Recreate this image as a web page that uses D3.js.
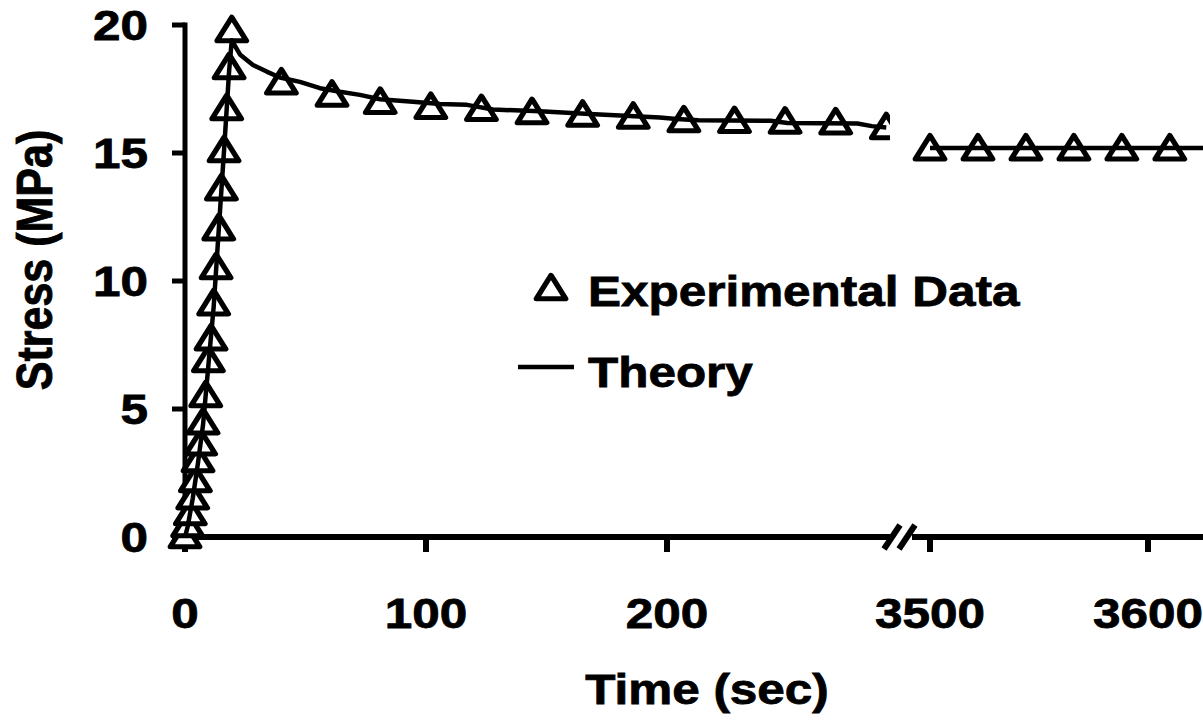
<!DOCTYPE html>
<html>
<head>
<meta charset="utf-8">
<script src="https://cdn.jsdelivr.net/npm/d3@7/dist/d3.min.js"></script>
<style>
  html, body { margin: 0; padding: 0; background: #fff; }
  svg { display: block; }
  text { font-family: "Liberation Sans", Arial, Helvetica, sans-serif; font-weight: bold; fill: #000; stroke: #000; stroke-width: 0.8px; }
</style>
</head>
<body>
<svg id="chart" width="1203" height="723"></svg>
<script>
// Stress-relaxation test: loading ramp, relaxation, and long-time plateau.

// Experimental data, loading ramp (sec, MPa)
const rampTime   = [0, 1.1, 2.2, 3.2, 4.3, 5.4, 6.5, 7.5, 8.6, 9.7, 10.8, 11.9, 12.9, 14.0, 15.1, 16.2, 17.3, 18.3, 19.4];
const rampStress = [0, 0.43, 0.9, 1.52, 2.19, 2.97, 3.63, 4.45, 5.51, 6.88, 7.73, 9.10, 10.51, 12.03, 13.59, 15.08, 16.72, 18.32, 19.77];

// Experimental data, relaxation (sec, MPa)
const relaxTime   = [40, 61, 81, 102, 123, 144, 165, 186, 207, 228, 249, 270, 291];
const relaxStress = [17.73, 17.25, 16.97, 16.77, 16.69, 16.57, 16.47, 16.39, 16.25, 16.22, 16.2, 16.17, 15.98];

// Experimental data, long-time plateau (sec, MPa)
const lateTime   = [3500, 3522, 3544, 3566, 3588, 3610];
const lateStress = [15.15, 15.15, 15.15, 15.15, 15.15, 15.15];

// Theory curve, early segment (sec, MPa)
const theoryTime = [0, 1.1, 3.2, 5.4, 7.5, 9.7, 11.9, 14.0, 16.2, 18.3, 19.4, 22.8, 28.2, 33.9, 39.4, 47.7, 56, 64.3, 72.6, 80.9,
                    94.6, 105.8, 117, 127.8, 147.3, 168, 197, 204, 213, 243, 250, 279, 285, 291];
const theoryStress = [0, 0.4, 1.5, 2.9, 4.4, 6.7, 9.0, 12.0, 15.1, 18.2, 19.4, 18.85, 18.44, 18.18, 17.95, 17.78, 17.53, 17.39, 17.27, 17.1,
                      17.0, 16.91, 16.88, 16.7, 16.63, 16.52, 16.39, 16.33, 16.28, 16.26, 16.17, 16.15, 16.05, 16.0];

// Theory curve, late segment (sec, MPa)
const theoryLateTime   = [3500, 3630];
const theoryLateStress = [15.2, 15.2];

// Axis ticks
const yTicks = [0, 5, 10, 15, 20];
const xTicksEarly = [0, 100, 200];
const xTicksLate = [3500, 3600];

// Legend entries
const legendLabels = ["Experimental Data", "Theory"];

const svg = d3.select("#chart");
const STRETCH = 1.15;   // text is set slightly wide
const FONT = 43;

// Scales: broken time axis with two linear pieces
const y = d3.scaleLinear().domain([0, 20]).range([537, 25]);
const xEarly = d3.scaleLinear().domain([0, 100]).range([185, 426]);
const xLate  = d3.scaleLinear().domain([3500, 3600]).range([930, 1148]);
const earlyEnd = 890, lateStart = 912, plotRight = 1203;

const zip = (a, b) => a.map((v, i) => [v, b[i]]);

function label(x, yy, str, anchor, rotate) {
  const g = svg.append("g").attr("transform", `translate(${x},${yy}) scale(${STRETCH},1)` + (rotate ? " rotate(-90)" : ""));
  g.append("text").attr("text-anchor", anchor).attr("font-size", FONT).text(str);
}

// Clip regions for each piece of the broken axis
const defs = svg.append("defs");
defs.append("clipPath").attr("id", "clipEarly").append("rect")
  .attr("x", 150).attr("y", 0).attr("width", earlyEnd - 150).attr("height", 723);
defs.append("clipPath").attr("id", "clipLate").append("rect")
  .attr("x", lateStart).attr("y", 0).attr("width", plotRight - lateStart).attr("height", 723);

// Y axis
const yAxis = svg.append("g");
yAxis.append("line").attr("x1", 185).attr("x2", 185).attr("y1", y(0)).attr("y2", y(20) - 2.5)
  .attr("stroke", "#000").attr("stroke-width", 5);
yAxis.selectAll("line.tick").data(yTicks).join("line").attr("class", "tick")
  .attr("x1", 172).attr("x2", 185).attr("y1", d => y(d)).attr("y2", d => y(d))
  .attr("stroke", "#000").attr("stroke-width", 5);
yTicks.forEach(d => label(148, y(d) + 15, String(d), "end"));

// X axis, two segments with a break mark
const xAxis = svg.append("g");
xAxis.append("line").attr("x1", 185).attr("x2", earlyEnd).attr("y1", y(0)).attr("y2", y(0))
  .attr("stroke", "#000").attr("stroke-width", 6);
xAxis.append("line").attr("x1", lateStart).attr("x2", plotRight).attr("y1", y(0)).attr("y2", y(0))
  .attr("stroke", "#000").attr("stroke-width", 6);
const tickPos = xTicksEarly.map(d => xEarly(d)).concat(xTicksLate.map(d => xLate(d)));
xAxis.selectAll("line.tick").data(tickPos).join("line").attr("class", "tick")
  .attr("x1", d => d).attr("x2", d => d).attr("y1", y(0)).attr("y2", y(0) + 15)
  .attr("stroke", "#000").attr("stroke-width", 6);
xTicksEarly.forEach(d => label(xEarly(d), 628, String(d), "middle"));
xTicksLate.forEach(d => label(xLate(d), 628, String(d), "middle"));
[892, 907].forEach(cx => {
  xAxis.append("line").attr("x1", cx - 8).attr("y1", y(0) + 12).attr("x2", cx + 8).attr("y2", y(0) - 12)
    .attr("stroke", "#000").attr("stroke-width", 6);
});

// Axis titles
label(707, 704, "Time (sec)", "middle");
label(52, 260, "Stress (MPa)", "middle", true);

// Triangle marker
const tri = d3.symbol().type(d3.symbolTriangle).size(320);
function markers(data, xs, clip) {
  svg.append("g").attr("clip-path", `url(#${clip})`)
    .selectAll("path").data(data).join("path")
    .attr("d", tri)
    .attr("transform", d => `translate(${xs(d[0])},${y(d[1]) + 2}) scale(1.08,1)`)
    .attr("fill", "#fff").attr("stroke", "#000").attr("stroke-width", 5).attr("stroke-linejoin", "round");
}
markers(zip(rampTime, rampStress), xEarly, "clipEarly");
markers(zip(relaxTime, relaxStress), xEarly, "clipEarly");
markers(zip(lateTime, lateStress), xLate, "clipLate");

// Theory curves
const lineEarly = d3.line().x(d => xEarly(d[0])).y(d => y(d[1]));
const lineLate = d3.line().x(d => xLate(d[0])).y(d => y(d[1]));
svg.append("path").datum(zip(theoryTime, theoryStress)).attr("d", lineEarly)
  .attr("fill", "none").attr("stroke", "#000").attr("stroke-width", 4.5).attr("stroke-linejoin", "round")
  .attr("clip-path", "url(#clipEarly)");
svg.append("path").datum(zip(theoryLateTime, theoryLateStress)).attr("d", lineLate)
  .attr("fill", "none").attr("stroke", "#000").attr("stroke-width", 4.5)
  .attr("clip-path", "url(#clipLate)");

// Legend
const legend = svg.append("g");
legend.append("path").attr("d", tri).attr("transform", "translate(551,291) scale(1.08,1)")
  .attr("fill", "#fff").attr("stroke", "#000").attr("stroke-width", 5).attr("stroke-linejoin", "round");
legend.append("line").attr("x1", 518).attr("x2", 574).attr("y1", 367).attr("y2", 367)
  .attr("stroke", "#000").attr("stroke-width", 4.5);
label(588, 306, legendLabels[0], "start");
label(588, 387, legendLabels[1], "start");
</script>
</body>
</html>
